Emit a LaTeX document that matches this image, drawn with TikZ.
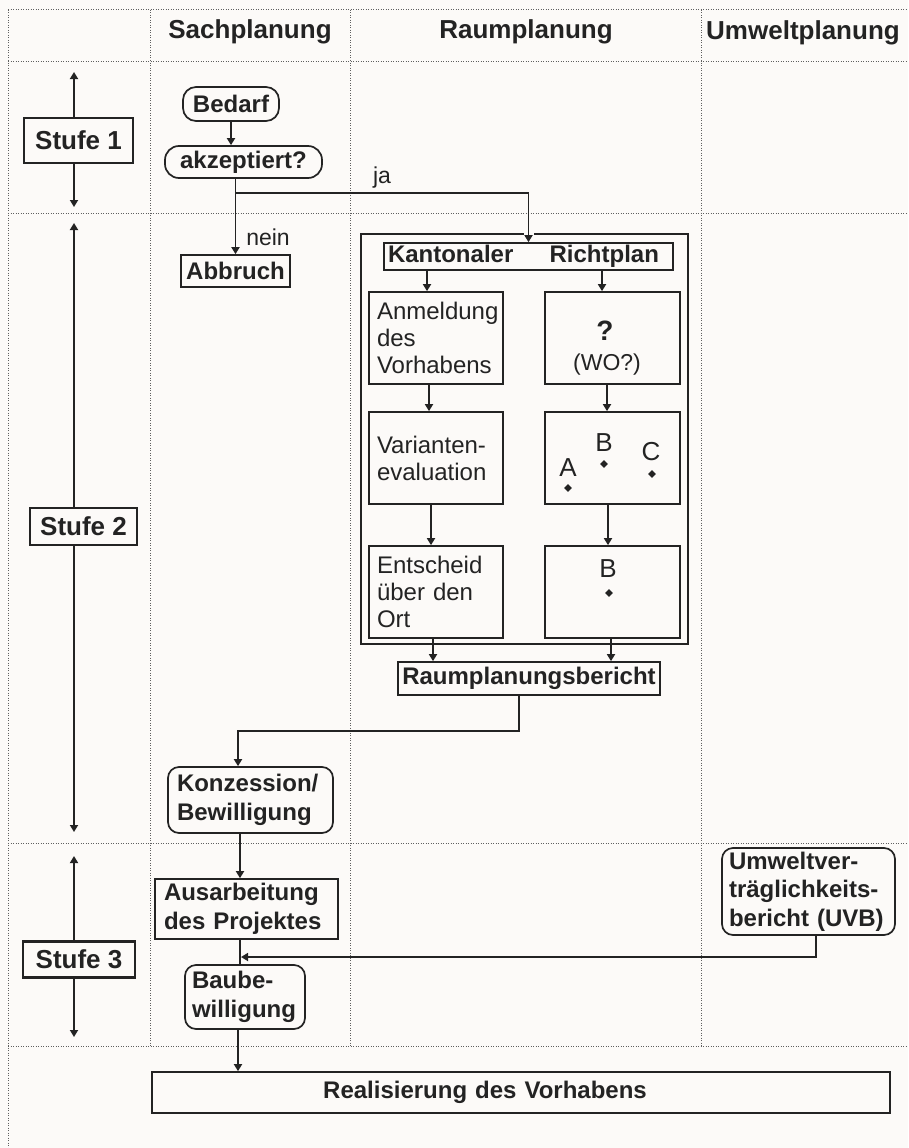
\documentclass[tikz,border=0pt]{standalone}
\usepackage{fontspec}
\setmainfont{Liberation Sans}
\usetikzlibrary{arrows.meta,shapes.geometric}
\definecolor{bgc}{RGB}{252,250,248}
\definecolor{ink}{RGB}{35,35,35}
\definecolor{gridc}{RGB}{95,95,95}
\begin{document}
\begin{tikzpicture}[x=1pt,y=-1pt,
  grid/.style={draw=gridc, dash pattern=on 1pt off 1.5pt, line width=1pt},
  ln/.style={draw=ink, line width=1.7pt},
  arr/.style={ln, -{Triangle[length=7pt,width=8pt]}},
  dbl/.style={ln, {Triangle[length=7pt,width=8pt]}-{Triangle[length=7pt,width=8pt]}},
  bx/.style={draw=ink, line width=1.7pt, fill=bgc, inner sep=0pt, text=ink,
    font=\bfseries\fontsize{24}{28.5}\selectfont},
  rbx/.style={bx, rounded corners=11pt},
  stufe/.style={bx, line width=2.4pt, font=\bfseries\fontsize{26}{28}\selectfont},
  ibx/.style={bx, font=\fontsize{24}{27}\selectfont, align=left, inner xsep=8pt,
    text width=118pt, minimum width=134pt, minimum height=92pt},
  rbox/.style={bx, minimum width=135pt, minimum height=92pt},
  hdr/.style={font=\bfseries\fontsize{26}{28}\selectfont, text=ink, inner sep=0pt},
  lbl/.style={font=\fontsize{23}{28}\selectfont, text=ink, inner sep=0pt},
  lt/.style={font=\fontsize{26}{28}\selectfont, text=ink, inner sep=0pt},
  dot/.style={diamond, fill=ink, inner sep=0pt, minimum size=8pt}
]
\fill[bgc] (0,0) rectangle (908,1148);
\useasboundingbox (0,0) rectangle (908,1148);

% grid
\draw[grid] (8,10) -- (908,10);
\draw[grid] (8,62) -- (908,62);
\draw[grid] (8,213) -- (908,213);
\draw[grid] (8,843) -- (908,843);
\draw[grid] (8,1046) -- (908,1046);
\draw[grid] (8,10) -- (8,1148);
\draw[grid] (150,10) -- (150,1046);
\draw[grid] (350,10) -- (350,1046);
\draw[grid] (701,10) -- (701,1046);

% headers
\node[hdr] (h1) at (250,32) {Sachplanung};
\node[hdr] (h2) at (526,32) {Raumplanung};
\node[hdr, anchor=west] (h3) at (706,33) {Umweltplanung};

% Stufe arrows
\coordinate (s1t) at (74,72); \coordinate (s1b) at (74,207);
\coordinate (s2t) at (74,223); \coordinate (s2b) at (74,832);
\coordinate (s3t) at (74,856); \coordinate (s3b) at (74,1037);
\draw[dbl] (s1t) -- (s1b);
\draw[dbl] (s2t) -- (s2b);
\draw[dbl] (s3t) -- (s3b);
\node[stufe, minimum width=109pt, minimum height=45pt] (st1) at (78.5,140.5) {Stufe 1};
\node[stufe, minimum width=107pt, minimum height=37pt] (st2) at (83.5,526.5) {Stufe 2};
\node[stufe, minimum width=112pt, minimum height=36pt] (st3) at (79,959.5) {Stufe 3};

% Sachplanung stage 1
\node[rbx, rounded corners=13pt, minimum width=96pt, minimum height=34pt] (bedarf) at (231,104) {Bedarf};
\node[rbx, rounded corners=14pt, minimum width=157pt, minimum height=32pt] (akz) at (243.5,162) {akzeptiert?};
\node[bx, minimum width=109pt, minimum height=32pt] (abbruch) at (235.5,271) {Abbruch};

% Richtplan frame
\node[draw=ink, line width=1.7pt, minimum width=327pt, minimum height=410pt, inner sep=0pt] (frame) at (524.5,439) {};
\node[bx, minimum width=289pt, minimum height=27pt, text width=281pt, inner xsep=4pt] (kr) at (528.5,256.5) {Kantonaler\hfill Richtplan\hspace*{10pt}};

\node[ibx] (l1) at (436,338) {Anmeldung\\des\\Vorhabens};
\node[ibx] (l2) at (436,458) {Varianten-\\evaluation};
\node[ibx] (l3) at (436,592) {Entscheid\\über den\\Ort};
\node[rbox] (r1) at (612.5,338) {};
\node[rbox] (r2) at (612.5,458) {};
\node[rbox] (r3) at (612.5,592) {};

\node[lt, font=\bfseries\fontsize{28}{28}\selectfont] (q) at (605,331) {?};
\node[lt, font=\fontsize{23}{28}\selectfont] (wo) at (607,365) {(WO?)};
\node[lt] (tB) at (604,443) {B}; \node[dot] (dB) at (604,464) {};
\node[lt] (tA) at (568,468) {A}; \node[dot] (dA) at (568,488) {};
\node[lt] (tC) at (651,452) {C}; \node[dot] (dC) at (652,474) {};
\node[lt] (tB2) at (608,569) {B}; \node[dot] (dB2) at (609,593) {};

\node[bx, minimum width=262pt, minimum height=33pt] (rb) at (529,678.5) {Raumplanungsbericht};

% stage 2/3 Sachplanung
\node[rbx, minimum width=165pt, minimum height=66pt, align=left, text width=147pt, inner xsep=9pt] (konz) at (250.5,800) {Konzession/\\Bewilligung};
\node[bx, minimum width=183pt, minimum height=60pt, align=left, text width=165pt, inner xsep=9pt] (ausarb) at (246.5,909) {Ausarbeitung\\des Projektes};
\node[rbx, minimum width=120pt, minimum height=64pt, align=left, text width=106pt, inner xsep=7pt] (bau) at (245,997) {Baube-\\willigung};
\node[rbx, minimum width=173pt, minimum height=87pt, align=left, text width=159pt, inner xsep=7pt] (uvb) at (808.5,891.5) {Umweltver-\\träglichkeits-\\bericht (UVB)};
\node[bx, minimum width=738pt, minimum height=41pt, text width=730pt, inner xsep=4pt, align=center] (real) at (521,1092.5) {Realisierung des Vorhabens\hspace*{72pt}};

% connectors
\draw[arr] (bedarf.south) -- (bedarf.south |- akz.north);
\draw[arr] (abbruch.north |- akz.south) -- (abbruch.north);
\coordinate (j) at (235.5,193);
\draw[bgc, line width=10pt] (528.5,230) -- (528.5,239);
\draw[arr] (j) -| (kr.north);
\node[lbl] (ja) at (382,178) {ja};
\node[lbl] (nein) at (268,237) {nein};

\path ([xshift=-9pt]l1.north) coordinate (a1)
      ([xshift=-7pt]l2.north) coordinate (a2)
      ([xshift=-5pt]l3.north) coordinate (a3)
      ([xshift=-3pt]l3.south) coordinate (a4)
      ([xshift=-10.5pt]r1.north) coordinate (b1)
      ([xshift=-5.5pt]r2.north) coordinate (b2)
      ([xshift=-4.5pt]r3.north) coordinate (b3)
      ([xshift=-1.5pt]r3.south) coordinate (b4);
\draw[arr] (kr.south -| a1) -- (a1);
\draw[arr] (l1.south -| a2) -- (a2);
\draw[arr] (l2.south -| a3) -- (a3);
\draw[arr] (a4) -- (rb.north -| a4);
\draw[arr] (kr.south -| b1) -- (b1);
\draw[arr] (r1.south -| b2) -- (b2);
\draw[arr] (r2.south -| b3) -- (b3);
\draw[arr] (b4) -- (rb.north -| b4);

\coordinate (c1) at ([xshift=-10pt]rb.south);
\coordinate (c2) at ([xshift=-12.5pt]konz.north);
\draw[arr] (c1) -- ++(0,35) -| (c2);
\coordinate (c3) at ([xshift=-10.5pt]konz.south);
\draw[arr] (c3) -- (c3 |- ausarb.north);
\draw[ln] (c3 |- ausarb.south) -- (c3 |- bau.north);
\coordinate (c4) at ([xshift=7.5pt]uvb.south);
\coordinate (m) at (241,957);
\draw[arr] (c4) |- (m);
\coordinate (c5) at ([xshift=-7pt]bau.south);
\draw[arr] (c5) -- (c5 |- real.north);
\end{tikzpicture}
\end{document}
